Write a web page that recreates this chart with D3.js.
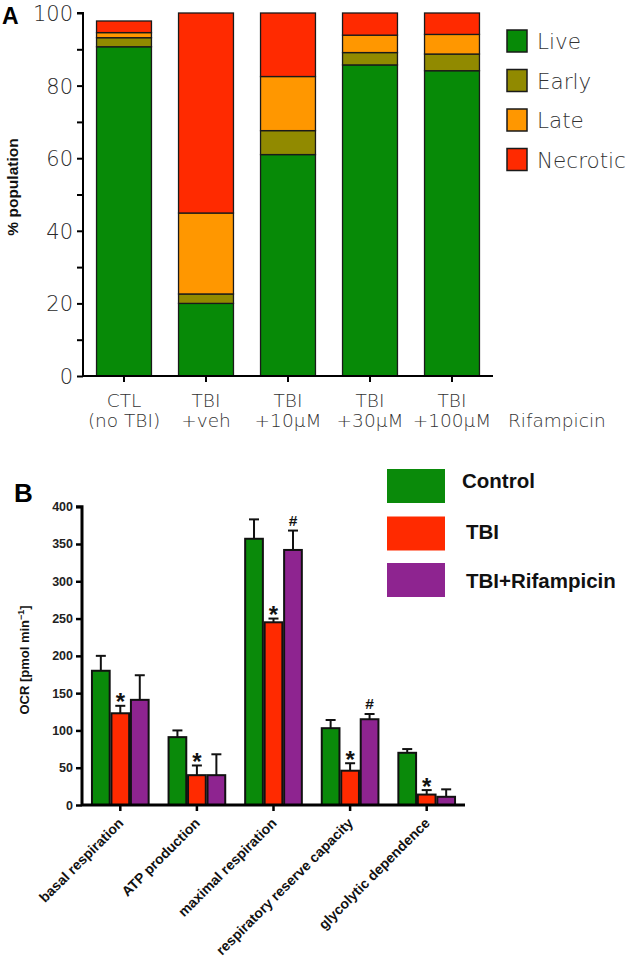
<!DOCTYPE html>
<html><head><meta charset="utf-8">
<script src="https://cdn.jsdelivr.net/npm/d3@7"></script>
<style>html,body{margin:0;padding:0;background:#fff;}svg{display:block;}</style>
</head><body>
<svg id="c" width="632" height="961"></svg>
<script>
// ---------- Panel A data ----------
const groupsA = ["CTL|(no TBI)", "TBI|+veh", "TBI|+10\u00b5M", "TBI|+30\u00b5M", "TBI|+100\u00b5M"];
const stagesA = ["Live", "Early", "Late", "Necrotic"];
const liveA = [90.7, 20.0, 61.0, 85.7, 84.1];
const earlyA = [2.5, 2.6, 6.6, 3.4, 4.6];
const lateA = [1.4, 22.3, 14.9, 4.8, 5.4];
const necroticA = [3.2, 55.1, 17.5, 6.1, 5.9];
const colorsA = ["#078a07", "#918a00", "#ff9700", "#ff2a00"];
const ticksA = [0, 20, 40, 60, 80, 100];

// ---------- Panel B data ----------
const categoriesB = ["basal respiration", "ATP production", "maximal respiration", "respiratory reserve capacity", "glycolytic dependence"];
const seriesB = ["Control", "TBI", "TBI+Rifampicin"];
const controlB = [180, 91, 357, 103, 70];
const tbiB = [123, 40, 245, 46, 14];
const rifB = [141, 40, 342, 115, 11];
const controlErrB = [20, 9, 26, 11, 5];
const tbiErrB = [10, 13, 5, 10, 6];
const rifErrB = [33, 28, 26, 7, 10];
const tbiMarkB = ["*", "*", "*", "*", "*"];
const rifMarkB = ["", "", "#", "#", ""];
const colorsB = ["#0a8a0a", "#ff2a00", "#8e2490"];
const ticksB = [0, 50, 100, 150, 200, 250, 300, 350, 400];

const svg = d3.select("#c");
const fontA = "'DejaVu Sans', Verdana, sans-serif";
const fontB = "'Liberation Sans', Arial, sans-serif";

// ================= Panel A =================
const A = {left: 83, right: 493, top: 13, bottom: 376};
const xA = d3.scaleBand().domain(groupsA).range([A.left, A.right]).paddingInner(0.33).paddingOuter(0.165);
const yA = d3.scaleLinear().domain([0, 100]).range([A.bottom, A.top]);
const stackData = groupsA.map((g, i) => ({g, Live: liveA[i], Early: earlyA[i], Late: lateA[i], Necrotic: necroticA[i]}));
const stacked = d3.stack().keys(stagesA)(stackData);
const gA = svg.append("g");
stacked.forEach((layer, li) => {
  gA.selectAll(null).data(layer).enter().append("rect")
    .attr("x", d => xA(d.data.g)).attr("width", xA.bandwidth())
    .attr("y", d => yA(d[1])).attr("height", d => yA(d[0]) - yA(d[1]))
    .attr("fill", colorsA[li]).attr("stroke", "#1a1a1a").attr("stroke-width", 1.3);
});
// y axis
const yAxA = d3.axisLeft(yA).tickValues(d3.range(0, 101, 10)).tickSize(6).tickFormat(d => ticksA.includes(d) ? d : "");
const gy = gA.append("g").attr("transform", `translate(${A.left},0)`).call(yAxA);
gy.select(".domain").attr("stroke-width", 2).attr("d", `M-6,${A.top}H0V${A.bottom}`);
gy.selectAll(".tick line").attr("stroke-width", 2);
gy.selectAll(".tick text").attr("font-family", fontA).attr("font-weight", 300).attr("font-size", 21).attr("fill", "#2a2a2a").attr("x", -10).attr("dy", "0.36em");
// x axis
const xAxA = d3.axisBottom(xA).tickSize(6).tickFormat("");
const gx = gA.append("g").attr("transform", `translate(0,${A.bottom})`).call(xAxA);
gx.select(".domain").attr("stroke-width", 2).attr("d", `M${A.left},0H${A.right}`);
gx.selectAll(".tick line").attr("stroke-width", 2);
groupsA.forEach(g => {
  const [l1, l2] = g.split("|");
  const cx = xA(g) + xA.bandwidth() / 2;
  gA.append("text").attr("x", cx).attr("y", 407).attr("text-anchor", "middle").attr("font-family", fontA).attr("font-weight", 300).attr("font-size", 18.5).attr("fill", "#333").text(l1);
  gA.append("text").attr("x", cx).attr("y", 427).attr("text-anchor", "middle").attr("font-family", fontA).attr("font-weight", 300).attr("font-size", 18.5).attr("fill", "#333").text(l2);
});
gA.append("text").attr("x", 508).attr("y", 427).attr("font-family", fontA).attr("font-weight", 300).attr("font-size", 18.5).attr("fill", "#333").text("Rifampicin");
// y title
gA.append("text").attr("transform", "translate(18,187) rotate(-90)").attr("text-anchor", "middle")
  .attr("font-family", fontB).attr("font-weight", "bold").attr("font-size", 15.5).attr("fill", "#111").text("% population");
gA.append("text").attr("x", 2).attr("y", 24).attr("font-family", fontB).attr("font-weight", "bold").attr("font-size", 23).attr("fill", "#000").text("A");
// legend A
stagesA.forEach((s, i) => {
  const y0 = 30 + i * 39.5;
  gA.append("rect").attr("x", 507).attr("y", y0).attr("width", 20).attr("height", 22).attr("fill", colorsA[i]).attr("stroke", "#1a1a1a").attr("stroke-width", 1.5);
  gA.append("text").attr("x", 537).attr("y", y0 + 19).attr("font-family", fontA).attr("font-weight", 300).attr("font-size", 21.5).attr("fill", "#333").text(s);
});

// ================= Panel B =================
const B = {left: 82, right: 465, top: 506.7, bottom: 805};
const xB = d3.scaleBand().domain(categoriesB).range([B.left, B.right]).paddingInner(0.26).paddingOuter(0.13);
const xInner = d3.scaleBand().domain(seriesB).range([0, xB.bandwidth()]).paddingInner(0.09);
const yB = d3.scaleLinear().domain([0, 400]).range([B.bottom, B.top]);
const gB = svg.append("g");
const valsB = [controlB, tbiB, rifB];
const errsB = [controlErrB, tbiErrB, rifErrB];
const marksB = [null, tbiMarkB, rifMarkB];
seriesB.forEach((s, si) => {
  categoriesB.forEach((c, ci) => {
    const x0 = xB(c) + xInner(s);
    const w = xInner.bandwidth();
    const v = valsB[si][ci], e = errsB[si][ci];
    const cx = x0 + w / 2;
    gB.append("line").attr("x1", cx).attr("x2", cx).attr("y1", yB(v)).attr("y2", yB(v + e)).attr("stroke", "#111").attr("stroke-width", 2);
    gB.append("line").attr("x1", cx - 5).attr("x2", cx + 5).attr("y1", yB(v + e)).attr("y2", yB(v + e)).attr("stroke", "#111").attr("stroke-width", 2);
    gB.append("rect").attr("x", x0).attr("width", w).attr("y", yB(v)).attr("height", yB(0) - yB(v))
      .attr("fill", colorsB[si]).attr("stroke", "#111").attr("stroke-width", 2);
    if (marksB[si] && marksB[si][ci]) {
      const m = marksB[si][ci];
      gB.append("text").attr("x", cx).attr("y", yB(v + e) + (m === "*" ? 4.5 : -5)).attr("text-anchor", "middle")
        .attr("font-family", fontB).attr("font-weight", "bold").attr("font-size", m === "*" ? 24 : 15.5).attr("fill", "#111").text(m);
    }
  });
});
const yAxB = d3.axisLeft(yB).tickValues(ticksB).tickSize(6);
const gyB = gB.append("g").attr("transform", `translate(${B.left},0)`).call(yAxB);
gyB.select(".domain").attr("stroke-width", 3).attr("d", `M-6,${B.top}H0V${B.bottom}`);
gyB.selectAll(".tick line").attr("stroke-width", 2.5);
gyB.selectAll(".tick text").attr("font-family", fontB).attr("font-weight", "bold").attr("font-size", 12.5).attr("fill", "#222").attr("x", -9);
const xAxB = d3.axisBottom(xB).tickSize(6).tickFormat("");
const gxB = gB.append("g").attr("transform", `translate(0,${B.bottom})`).call(xAxB);
gxB.select(".domain").attr("stroke-width", 3).attr("d", `M${B.left},0H${B.right}`);
gxB.selectAll(".tick line").attr("stroke-width", 2.5);
categoriesB.forEach(c => {
  const cx = xB(c) + xB.bandwidth() / 2;
  gB.append("text").attr("transform", `translate(${cx + 4},${B.bottom + 19}) rotate(-45)`).attr("text-anchor", "end")
    .attr("font-family", fontB).attr("font-weight", "bold").attr("font-size", 14).attr("fill", "#111").text(c);
});
const yt = gB.append("text").attr("transform", "translate(29,660) rotate(-90)").attr("text-anchor", "middle")
  .attr("font-family", fontB).attr("font-weight", "bold").attr("font-size", 13).attr("fill", "#111");
yt.append("tspan").text("OCR [pmol min");
yt.append("tspan").attr("dy", -5).attr("font-size", 9).text("\u22121");
yt.append("tspan").attr("dy", 5).text("]");
gB.append("text").attr("x", 14).attr("y", 502).attr("font-family", fontB).attr("font-weight", "bold").attr("font-size", 26).attr("fill", "#000").text("B");
// legend B
const legY = [469, 516.5, 563];
const legBase = [488, 539, 588];
const legTx = [462, 466, 466];
seriesB.forEach((s, i) => {
  gB.append("rect").attr("x", 387).attr("y", legY[i]).attr("width", 58).attr("height", 34).attr("fill", colorsB[i]);
  gB.append("text").attr("x", legTx[i]).attr("y", legBase[i]).attr("font-family", fontB).attr("font-weight", "bold").attr("font-size", 20.5).attr("fill", "#111").text(s);
});
</script>
</body></html>
